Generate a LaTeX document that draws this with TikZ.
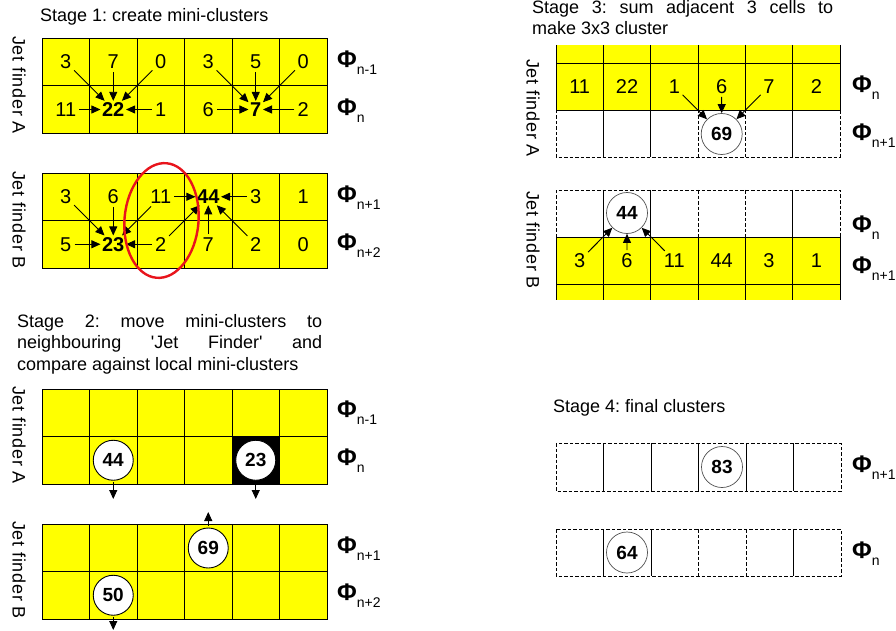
\documentclass[tikz,border=0pt]{standalone}
\usepackage{fontspec}
\setmainfont{Liberation Sans}
\usepackage{xcolor}
\usetikzlibrary{arrows.meta,positioning,shapes}
\definecolor{cellyellow}{HTML}{FFFF00}
\definecolor{ringgray}{HTML}{505050}
\definecolor{markred}{HTML}{E8141C}
\tikzset{
  num/.style={inner sep=1.5pt,font=\fontsize{20}{20}\selectfont},
  title/.style={inner sep=0pt,font=\fontsize{18}{21.5}\selectfont\frenchspacing,align=left},
  jetlabel/.style={rotate=-90,inner sep=0pt,
                   font=\fontsize{18}{20}\selectfont\addfontfeature{LetterSpace=4}},
  philabel/.style={anchor=west,inner sep=0pt},
  gridline/.style={draw=black,line width=0.8pt},
  dashline/.style={draw=black,line width=0.7pt,dash pattern=on 3.5pt off 2pt},
  blob/.style={circle,draw=black,fill=white,line width=0.9pt,minimum size=40pt,
               inner sep=0pt,font=\fontsize{19}{19}\selectfont\bfseries},
  ring/.style={circle,draw=ringgray,fill=white,line width=0.7pt,minimum size=41pt,
               inner sep=0pt,font=\fontsize{19}{19}\selectfont\bfseries},
  arr/.style={-{Triangle[length=9pt,width=8pt]},line width=0.9pt,draw=black,
              shorten <=1.5pt},
  oval/.style={draw=markred,line width=2.4pt}
}
\newcommand\philab[1]{{\fontsize{24}{24}\selectfont\bfseries Φ}\raisebox{-7pt}{\fontsize{14}{14}\selectfont #1}}

\begin{document}
\begin{tikzpicture}[x=1pt,y=-1pt]
  \path[use as bounding box] (0,0) rectangle (896,631);

  % stage 1: create mini-clusters
  \node[title,anchor=west] (st1) at (40,17) {Stage 1: create mini-clusters};
  \node[jetlabel] (jf1a) at (19,85) {Jet finder A};
  \node[jetlabel] (jf1b) at (19,220) {Jet finder B};
  \foreach \y in {38,85.5,173,220.5}
    \foreach \c in {0,...,5}
      \draw[gridline,fill=cellyellow] ({42+47.5*\c},\y) rectangle ++(47.5,47.5);
  \foreach \v [count=\i] in {3,7,0,3,5,0}
    \node[num] (sa1-\i) at ({42+47.5*(\i-0.5)},62) {\v};
  \foreach \v [count=\i] in {11,\textbf{22},1,6,\textbf{7},2}
    \node[num] (sa2-\i) at ({42+47.5*(\i-0.5)},109.5) {\v};
  \foreach \v [count=\i] in {3,6,11,\textbf{44},3,1}
    \node[num] (sb1-\i) at ({42+47.5*(\i-0.5)},196.75) {\v};
  \foreach \v [count=\i] in {5,\textbf{23},2,7,2,0}
    \node[num] (sb2-\i) at ({42+47.5*(\i-0.5)},244.25) {\v};
  \foreach \s in {sa1-1,sa1-2,sa1-3,sa2-1,sa2-3} \draw[arr] (\s) -- (sa2-2);
  \foreach \s in {sa1-4,sa1-5,sa1-6,sa2-4,sa2-6} \draw[arr] (\s) -- (sa2-5);
  \foreach \s in {sb1-3,sb1-5,sb2-3,sb2-4,sb2-5} \draw[arr] (\s) -- (sb1-4);
  \foreach \s in {sb1-1,sb1-2,sb1-3,sb2-1,sb2-3} \draw[arr] (\s) -- (sb2-2);
  \draw[oval,rotate around={-5:(161.5,220.5)}] (161.5,220.5) ellipse [x radius=37,y radius=57.5];
  \node[philabel] (p1a) at (337,63) {\philab{n-1}};
  \node[philabel] (p1b) at (337,110.5) {\philab{n}};
  \node[philabel] (p1c) at (337,197.75) {\philab{n+1}};
  \node[philabel] (p1d) at (337,245.25) {\philab{n+2}};

  % stage 2: move mini-clusters
  \node[title,anchor=north west,text width=305pt,align=justify] (st2) at (17,314)
    {Stage 2: move mini-clusters to\linebreak
     neighbouring \textquotesingle Jet Finder\textquotesingle\ and\linebreak
     compare against local mini-clusters};
  \node[jetlabel] (jf2a) at (19,435) {Jet finder A};
  \node[jetlabel] (jf2b) at (19,570) {Jet finder B};
  \foreach \y in {389,436.5,524,571.5}
    \foreach \c in {0,...,5}
      \draw[gridline,fill=cellyellow] ({42+47.5*\c},\y) rectangle ++(47.5,47.5);
  \draw[gridline,fill=black] (232,436.5) rectangle ++(47.5,47.5);
  \node[blob] (b44) at (113.25,460.25) {44};
  \node[blob] (b23) at (255.75,460.25) {23};
  \node[blob] (b69) at (208.25,548) {69};
  \node[blob] (b50) at (113.25,595.25) {50};
  \coordinate (d44) at (113.25,499);
  \coordinate (d23) at (255.75,499);
  \coordinate (u69) at (208.25,512);
  \coordinate (d50) at (113.25,630);
  \draw[arr] (b44) -- (d44);
  \draw[arr] (b23) -- (d23);
  \draw[arr] (b69) -- (u69);
  \draw[arr] (b50) -- (d50);
  \node[philabel] (p2a) at (337,413) {\philab{n-1}};
  \node[philabel] (p2b) at (337,461) {\philab{n}};
  \node[philabel] (p2c) at (337,549) {\philab{n+1}};
  \node[philabel] (p2d) at (337,596) {\philab{n+2}};

  % stage 3: sum adjacent cells
  \node[title,anchor=north west,text width=301pt,align=justify] (st3) at (532,0)
    {Stage 3: sum adjacent 3 cells to\linebreak make 3x3 cluster};
  \node[jetlabel] (jf3a) at (533,108) {Jet finder A};
  \node[jetlabel] (jf3b) at (533,240) {Jet finder B};
  \fill[cellyellow] (556,45) rectangle (840,110);
  \foreach \c in {0,...,6} \draw[gridline] ({556+47.33*\c},45) -- ++(0,65);
  \draw[gridline] (556,63) -- (840,63) (556,110) -- (840,110);
  \draw[dashline] (556,110) -- (556,157) -- (840,157) -- (840,110);
  \foreach \c in {1,2,5} \draw[gridline] ({556+47.33*\c},110) -- ++(0,47);
  \foreach \c in {3,4} \draw[dashline] ({556+47.33*\c},110) -- ++(0,47);
  \foreach \v [count=\i] in {11,22,1,6,7,2}
    \node[num] (ta-\i) at ({556+47.33*(\i-0.5)},86.5) {\v};
  \node[ring] (r69) at (721.7,134) {69};
  \foreach \i in {3,4,5} \draw[arr] (ta-\i) -- (r69);
  \draw[dashline] (556,237) -- (556,190) -- (840,190) -- (840,237);
  \foreach \c in {1,2,5} \draw[gridline] ({556+47.33*\c},190) -- ++(0,47);
  \foreach \c in {3,4} \draw[dashline] ({556+47.33*\c},190) -- ++(0,47);
  \fill[cellyellow] (556,237) rectangle (840,300);
  \foreach \c in {0,...,6} \draw[gridline] ({556+47.33*\c},237) -- ++(0,63);
  \draw[gridline] (556,237) -- (840,237) (556,284) -- (840,284);
  \foreach \v [count=\i] in {3,6,11,44,3,1}
    \node[num] (tb-\i) at ({556+47.33*(\i-0.5)},260.5) {\v};
  \node[ring] (r44) at (627,213) {44};
  \foreach \i in {1,2,3} \draw[arr] (tb-\i) -- (r44);
  \node[philabel] (p3a) at (852,88) {\philab{n}};
  \node[philabel] (p3b) at (852,136) {\philab{n+1}};
  \node[philabel] (p3c) at (852,228) {\philab{n}};
  \node[philabel] (p3d) at (852,269) {\philab{n+1}};

  % stage 4: final clusters
  \node[title,anchor=west] (st4) at (553,408) {Stage 4: final clusters};
  \draw[dashline] (556,443) rectangle (841,491);
  \foreach \c in {1,...,5} \draw[gridline] ({556+47.5*\c},443) -- ++(0,48);
  \draw[dashline] (556,529) rectangle (841,576);
  \foreach \c in {1,2,5} \draw[gridline] ({556+47.5*\c},529) -- ++(0,47);
  \foreach \c in {3,4} \draw[dashline] ({556+47.5*\c},529) -- ++(0,47);
  \node[ring] (r83) at (722,467) {83};
  \node[ring] (r64) at (627,552.5) {64};
  \node[philabel] (p4a) at (852,468) {\philab{n+1}};
  \node[philabel] (p4b) at (852,554) {\philab{n}};
\end{tikzpicture}
\end{document}
